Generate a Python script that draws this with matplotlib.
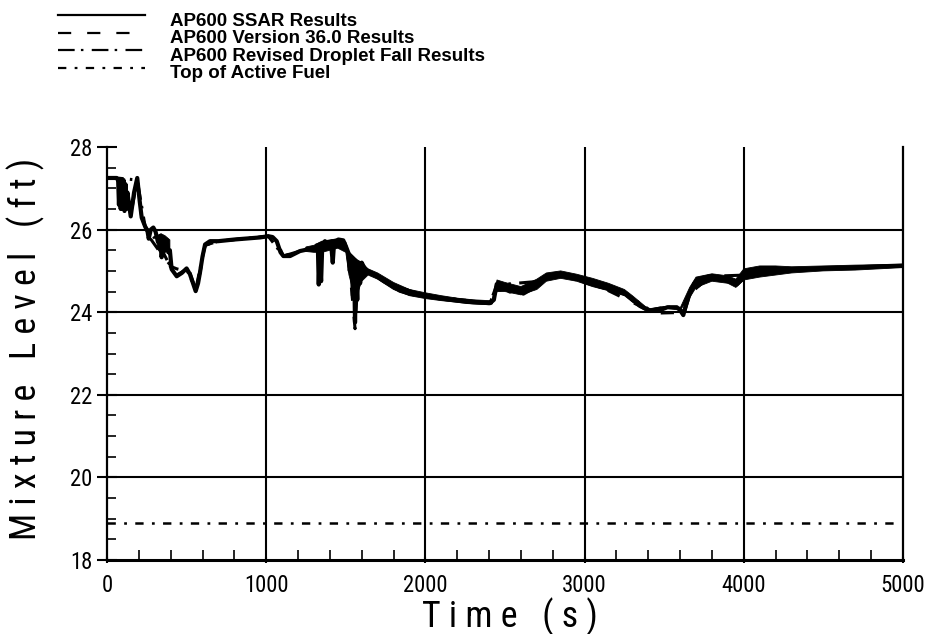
import matplotlib
matplotlib.use("Agg")
import matplotlib.pyplot as plt
from matplotlib import font_manager as fm
from matplotlib.lines import Line2D
from matplotlib.ticker import MultipleLocator

NAN = float("nan")

# ---- data -------------------------------------------------------------
# AP600 SSAR results: time (s) vs. mixture level (ft)
ssar_t = [0, 60, 70, 75, 80, 86, 92, 98, 104, 110,
          116, 122, 128, 149, 170, 190, 205, 218, 239, 255,
          262, 275, 291, 305, 320, 335, 343, 355, 365, 375,
          385, 395, 406, 438, 470, 500, 521, 540, 557, 572,
          584, 600, 616, 647, 700, 800, 900, 961, 1013, 1040,
          1066, 1090, 1108, 1150, 1212, 1260, 1317, 1325, 1330, 1336,
          1345, 1352, 1369, 1400, 1410, 1418, 1425, 1453, 1484, 1500,
          1516, 1525, 1535, 1545, 1552, 1558, 1564, 1572, 1580, 1590,
          1600, 1621, 1660, 1694, 1740, 1778, 1840, 1903, 2008, 2100,
          2259, 2406, 2430, 2448, 2470, 2490, 2531, 2570, 2615, 2660,
          2700, 2720, 2760, 2825, 2870, 2950, 3013, 3097, 3180, 3264,
          3300, 3348, 3411, 3474, 3520, 3579, 3600, 3620, 3635, 3662,
          3690, 3714, 3788, 3850, 3913, 3955, 3990, 4018, 4100, 4165,
          4250, 4374, 4500, 4688, 4850, 5000]
ssar_ft = [27.25, 27.25, 27.2, 26.6, 27.2, 26.5, 27.15, 26.5, 27.2, 26.45,
           27.1, 26.5, 26.9, 26.32, 26.9, 27.25, 26.7, 26.29, 26.08, 25.95,
           25.78, 26.0, 26.05, 25.95, 25.7, 25.85, 25.33, 25.8, 25.5, 25.75,
           25.45, 25.5, 25.04, 24.87, 24.95, 25.06, 24.92, 24.7, 24.51, 24.7,
           24.96, 25.35, 25.64, 25.72, 25.72, 25.76, 25.79, 25.81, 25.84, 25.82,
           25.72, 25.45, 25.36, 25.36, 25.48, 25.52, 25.56, 25.5, 24.67, 25.4,
           24.75, 25.6, 25.72, 25.62, 25.55, 25.2, 25.6, 25.76, 25.74, 25.6,
           25.44, 25.0, 25.3, 24.4, 25.1, 23.75, 24.9, 24.3, 25.2, 24.7,
           25.2, 25.04, 24.95, 24.87, 24.75, 24.67, 24.52, 24.45, 24.39, 24.33,
           24.25, 24.22, 24.3, 24.68, 24.55, 24.62, 24.5, 24.55, 24.45, 24.55,
           24.65, 24.75, 24.87, 24.93, 24.9, 24.83, 24.75, 24.62, 24.55, 24.43,
           24.3, 24.15, 24.03, 24.05, 24.12, 24.12, 24.05, 23.93, 24.15, 24.47,
           24.7, 24.8, 24.87, 24.8, 24.78, 24.67, 24.8, 24.9, 24.98, 25.0,
           25.02, 25.04, 25.06, 25.08, 25.11, 25.13]

# Oscillation envelope of the SSAR trace where it is noisy (NaN separates segments)
band_t = [72, 85, 100, 115, 128, 129,
          315, 340, 365, 395, 396,
          1250, 1300, 1350, 1400, 1450, 1500, 1520, 1560, 1600, 1640,
          1700, 1800, 1900, 2000, 2100, 2200, 2300, 2400, 2420, 2450,
          2500, 2600, 2700, 2760, 2850, 2950, 3050, 3150, 3250, 3300,
          3400, 3500, 3600, 3660, 3700, 3800, 3900, 3950, 4000, 4100,
          4200, 4300, 4500, 4700, 5000]
band_lo = [26.65, 26.55, 26.65, 26.5, 26.6, NAN,
           25.55, 25.4, 25.45, 25.5, NAN,
           25.47, 25.45, 25.45, 25.5, 25.55, 25.45, 24.9, 24.3, 24.75, 24.9,
           24.8, 24.55, 24.4, 24.33, 24.28, 24.24, 24.2, 24.18, 24.2, 24.5,
           24.5, 24.42, 24.55, 24.75, 24.82, 24.75, 24.62, 24.52, 24.4, 24.25,
           24.03, 24.1, 24.05, 24.35, 24.6, 24.75, 24.7, 24.6, 24.78, 24.85,
           24.9, 24.95, 25.0, 25.02, 25.08]
band_hi = [27.2, 27.22, 27.2, 27.15, 26.95, NAN,
           25.85, 25.9, 25.85, 25.75, NAN,
           25.58, 25.62, 25.72, 25.75, 25.78, 25.7, 25.45, 25.3, 25.2, 25.05,
           24.95, 24.72, 24.55, 24.47, 24.4, 24.34, 24.3, 24.28, 24.3, 24.78,
           24.72, 24.62, 24.8, 24.95, 25.0, 24.92, 24.82, 24.7, 24.55, 24.4,
           24.08, 24.14, 24.1, 24.6, 24.85, 24.93, 24.88, 24.8, 25.05, 25.12,
           25.12, 25.1, 25.12, 25.14, 25.16]

# AP600 Version 36.0 results
v36_t = [0, 60, 149, 190, 218, 260, 343, 406, 438, 470,
         500, 521, 557, 584, 616, 700, 1013, 1066, 1108, 1212,
         1317, 1369, 1453, 1516, 1558, 1580, 1621, 1778, 2008, 2406,
         2448, 2531, 2720, 2825, 3097, 3348, 3411, 3474, 3579, 3620,
         3662, 3788, 3955, 4018, 4374, 5000]
v36_ft = [27.25, 27.25, 26.35, 27.2, 26.3, 25.85, 25.4, 25.1, 25.05, 25.02,
          25.1, 24.95, 24.55, 24.95, 25.62, 25.72, 25.84, 25.72, 25.36, 25.48,
          25.56, 25.7, 25.75, 25.44, 23.6, 25.1, 25.04, 24.67, 24.39, 24.22,
          24.65, 24.5, 24.75, 24.93, 24.62, 24.15, 24.0, 23.98, 23.99, 23.9,
          24.45, 24.87, 24.67, 24.9, 25.04, 25.13]

# AP600 revised droplet fall results
rev_t = [0, 60, 190, 239, 320, 406, 438, 500, 557, 616,
         700, 1013, 1108, 1212, 1369, 1453, 1516, 1621, 1778, 2008,
         2406, 2448, 2720, 2825, 3264, 3411, 3474, 3579, 3620, 3662,
         3788, 4018, 4374, 5000]
rev_ft = [27.25, 27.25, 27.2, 26.08, 25.7, 25.04, 24.9, 25.04, 24.55, 25.62,
          25.72, 25.84, 25.36, 25.48, 25.7, 25.74, 25.44, 25.04, 24.67, 24.39,
          24.22, 24.66, 24.75, 24.92, 24.43, 24.05, 24.1, 24.14, 24.0, 24.45,
          24.87, 24.9, 25.04, 25.13]

taf_ft = 18.9  # top of active fuel

legend_labels = ["AP600 SSAR Results",
                 "AP600 Version 36.0 Results",
                 "AP600 Revised Droplet Fall Results",
                 "Top of Active Fuel"]

# ---- fonts ------------------------------------------------------------
_fonts = fm.fontManager.ttflist
_names = {f.name for f in _fonts}
if "Liberation Sans Narrow" in _names:
    COND = dict(family=["Liberation Sans Narrow", "DejaVu Sans"], stretch="normal")
elif "Roboto Condensed" in _names:
    COND = dict(family=["Roboto Condensed", "DejaVu Sans"], stretch="normal")
elif any(f.name == "DejaVu Sans" and f.stretch != "normal" for f in _fonts):
    COND = dict(family=["DejaVu Sans"], stretch="condensed")
else:
    COND = dict(family=["DejaVu Sans"], stretch="normal")

plt.rcParams["font.family"] = COND["family"]
plt.rcParams["font.stretch"] = COND["stretch"]
plt.rcParams["lines.scale_dashes"] = False

# ---- styles -----------------------------------------------------------
STY_SSAR = dict(linestyle="-")
STY_V36 = dict(linestyle=(0, (9.5, 11.5)))
STY_REV = dict(linestyle=(0, (12, 4.5, 1.8, 6)))
STY_TAF = dict(linestyle=(0, (6, 6, 2, 6)))

fig = plt.figure(figsize=(9.36, 6.34), dpi=100)
W, H = 936.0, 634.0
ax = fig.add_axes([107 / W, 1 - 560 / H, (903 - 107) / W, (560 - 147) / H])

ax.set_xlim(0, 5000)
ax.set_ylim(18, 28)

# curves
ax.fill_between(band_t, band_lo, band_hi, color="black", linewidth=0.6)
ax.plot(ssar_t, ssar_ft, color="black", lw=3.0, **STY_SSAR)
ax.plot(v36_t, v36_ft, color="black", lw=2.2, **STY_V36)
ax.plot(rev_t, rev_ft, color="black", lw=2.2, **STY_REV)
ax.plot([ssar_t[0], ssar_t[-1] * 0.992], [taf_ft, taf_ft], color="black", lw=1.8, **STY_TAF)

# axes, ticks and grid
ax.xaxis.set_major_locator(MultipleLocator(1000))
ax.xaxis.set_minor_locator(MultipleLocator(200))
ax.yaxis.set_major_locator(MultipleLocator(2))
ax.yaxis.set_minor_locator(MultipleLocator(0.5))

ax.spines["top"].set_visible(False)
for side in ("left", "right"):
    ax.spines[side].set_linewidth(1.6)
ax.spines["bottom"].set_linewidth(2.2)

ax.tick_params(axis="y", which="major", direction="inout", length=14, width=1.5,
               pad=3.5, labelsize=14, right=False)
ax.tick_params(axis="y", which="minor", direction="in", length=6.5, width=1.2, right=False)
ax.tick_params(axis="x", which="major", direction="inout", length=4, width=1.5,
               pad=8, labelsize=14, top=False)
ax.tick_params(axis="x", which="minor", direction="in", length=7, width=1.2, top=False)

xt = [v for v in ax.get_xticks() if 0 < v < 5000]
yt = [v for v in ax.get_yticks() if 18 < v < 28]
for v in xt:
    ax.axvline(v, color="black", lw=1.5, zorder=0.5)
for v in yt:
    ax.axhline(v, color="black", lw=1.5, zorder=0.5)

# axis titles
ylab = fig.text(26 / W, 1 - 349 / H, "M i x t u r e   L e v e l   ( f t )", rotation=90,
                ha="center", va="center", fontsize=22)
xlab = fig.text(510 / W, 1 - 627 / H, "T i m e   ( s )", ha="center", va="baseline",
                fontsize=22)

# legend block above the plot
leg_styles = [STY_SSAR, STY_V36, STY_REV, STY_TAF]
text_base = [25.5, 43.1, 60.7, 78.3]
for lab, sty, tb in zip(legend_labels, leg_styles, text_base):
    ly = tb - 10.5
    fig.add_artist(Line2D([58 / W, 145 / W], [1 - ly / H, 1 - ly / H],
                          transform=fig.transFigure, color="black", lw=1.6, **sty))
    fig.text(170 / W, 1 - tb / H, lab, ha="left", va="baseline", fontsize=13.5,
             fontweight="bold", family=["Liberation Sans", "DejaVu Sans"],
             stretch="normal")

# size the spaced-out axis titles and the tick labels to their printed extents
fig.canvas.draw()
rend = fig.canvas.get_renderer()
ext = ylab.get_window_extent(rend).height
ylab.set_fontsize(ylab.get_fontsize() * 382.0 / ext)
xlab.set_fontsize(ylab.get_fontsize())
tl = [t for t in ax.get_xticklabels() if t.get_text() == "1000"]
if tl:
    wpx = tl[0].get_window_extent(rend).width
    size = 14 * 45.0 / wpx
    ax.tick_params(axis="both", which="major", labelsize=size)

fig.savefig("out.png", dpi=100)
